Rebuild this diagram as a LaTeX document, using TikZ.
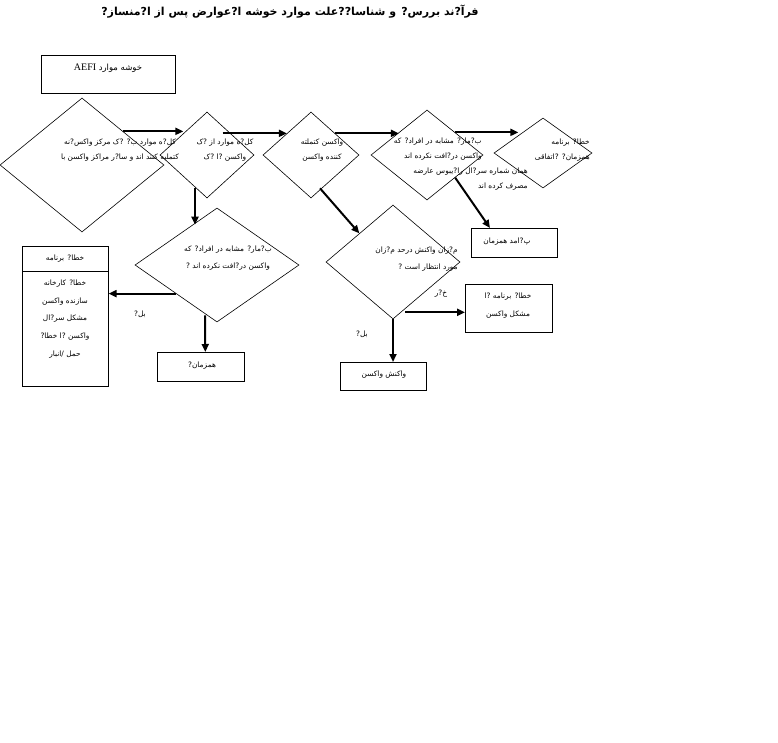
\documentclass[tikz,border=0pt]{standalone}
\usepackage{fontspec}
\setmainfont{Liberation Serif}
\newfontfamily\fa[Script=Arabic]{DejaVu Sans}
\TeXXeTstate=1
\usetikzlibrary{shapes.geometric,arrows.meta,calc}
\newcommand{\rl}[1]{\beginR #1\endR}
\tikzset{
  dmd/.style={draw, diamond, inner sep=0pt},
  box/.style={draw, rectangle, inner sep=0pt, anchor=north west},
  txt/.style={font=\fa\fontsize{7.4}{15}\selectfont, inner sep=0pt, align=center},
  arw/.style={line width=2pt, -{Triangle[length=8pt,width=7pt]}}
}

\begin{document}
\begin{tikzpicture}[x=1pt, y=-1pt, line width=0.6pt]
  \useasboundingbox (0,0) rectangle (778,742);
  \node[font=\fa\bfseries\fontsize{11}{13}\selectfont, inner sep=0pt] (title) at (290,12) {\rl{فرآ?ند بررس? و شناسا??علت موارد خوشه ا?عوارض پس از ا?منساز?}};

  \node[box, minimum width=134pt, minimum height=38pt] (cases) at (41,55) {};
  \node[txt, font=\fa\fontsize{8.5}{10}\selectfont] (casest) at (108,68) {\rl{خوشه موارد \beginL{\rmfamily\fontsize{10}{12}\selectfont AEFI}\endL}};

  \node[dmd, minimum width=164pt, minimum height=134pt] (d1) at (82,165) {};
  \node[dmd, minimum width=94pt, minimum height=86pt] (d2) at (207,155) {};
  \node[dmd, minimum width=96pt, minimum height=86pt] (d3) at (311,155) {};
  \node[dmd, minimum width=112pt, minimum height=90pt] (d4) at (427,155) {};
  \node[dmd, minimum width=98pt, minimum height=70pt] (d5) at (543,153) {};
  \node[dmd, minimum width=164pt, minimum height=114pt] (d6) at (217,265) {};
  \node[dmd, minimum width=134pt, minimum height=114pt] (d7) at (393,262) {};

  \node[box, minimum width=86pt, minimum height=29pt] (coin) at (471,228) {};
  \node[box, minimum width=87pt, minimum height=48pt] (prog) at (465,284) {};
  \node[box, minimum width=86pt, minimum height=28pt] (react) at (340,362) {};
  \node[box, minimum width=87pt, minimum height=29pt] (cons) at (157,352) {};
  \node[box, minimum width=86pt, minimum height=140pt] (err) at (22,246) {};
  \draw ($(err.north west)+(0,25)$) -- ($(err.north east)+(0,25)$);

  \node[txt] (d1t) at (120,150) {\rl{کل?ه موارد ب? ?ک مرکز واکس?نه}\\\rl{کتملیه کنند اند و سا?ر مراکز واکسن با}};
  \node[txt] (d2t) at (225,150) {\rl{کل?ه موارد از ?ک}\\\rl{واکسن ?ا ?ک}};
  \node[txt] (d3t) at (322,150) {\rl{واکسن کتملته}\\\rl{کننده واکسن}};
  \node[txt, align=right, anchor=north east] (d4t) at (482,138) {\rl{ب?مار? مشابه در افراد? که}\\\rl{واکسن در?افت نکرده اند}};
  \node[txt, align=right, anchor=north east] (d4u) at (528,168) {\rl{همان شماره سر?ال را?یبوس عارضه}\\\rl{مصرف کرده اند}};
  \node[txt, align=right, anchor=east] (d5t) at (590,150) {\rl{خطا? برنامه}\\\rl{همزمان? ?اتفاقی}};
  \node[txt, font=\fa\fontsize{7.4}{17}\selectfont] (d6t) at (228,258) {\rl{ب?مار? مشابه در افراد? که}\\\rl{واکسن در?افت نکرده اند ?}};
  \node[txt, font=\fa\fontsize{7.4}{17}\selectfont, align=right, anchor=east] (d7t) at (458,259) {\rl{م?زان واکنش درحد م?زان}\\\rl{مورد انتظار است ?}};

  \node[txt] (coint) at (507,242) {\rl{پ?امد همزمان}};
  \node[txt, font=\fa\fontsize{7.4}{18}\selectfont] (progt) at (508,306) {\rl{خطا? برنامه ?ا}\\\rl{مشکل واکسن}};
  \node[txt] (reactt) at (384,375) {\rl{واکنش واکسن}};
  \node[txt] (const) at (202,366) {\rl{همزمان?}};
  \node[txt] (errh) at (65,259) {\rl{خطا? برنامه}};
  \node[txt, font=\fa\fontsize{7.4}{17.8}\selectfont] (errt) at (65,319) {\rl{خطا? کارخانه}\\\rl{سازنده واکسن}\\\rl{مشکل سر?ال}\\\rl{واکسن ?ا خطا?}\\\rl{حمل /انبار}};

  \node[txt] (yes1) at (140,314) {\rl{بل?}};
  \node[txt] (yes2) at (362,334) {\rl{بل?}};
  \node[txt] (no2) at (441,294) {\rl{خ?ر}};

  \draw[arw] (d1.north east) -- (d1.north east -| d2.north west);
  \draw[arw] ($(d2.north east)+(-8,0)$) -- (d2.north east -| d3.north west);
  \draw[arw] (d3.north east) -- (d3.north east -| d4.north west);
  \draw[arw] (d4.north east) -- (d4.north east -| d5.north west);
  \draw[arw] ($(d2.south)+(-12,-10)$) -- ($(d6.north)+(-22,17)$);
  \draw[arw] ($(d3.south)+(9,-10)$) -- (d7.north west);
  \draw[arw] (d4.south east) -- ($(coin.north west)+(19,0)$);
  \draw[arw] (d6.south west) -- (d6.south west -| err.east);
  \draw[arw] ($(d6.south)+(-12,-7)$) -- ($(cons.north)+(4.5,0)$);
  \draw[arw] (d7.south) -- (d7.south |- react.north);
  \draw[arw] ($(d7.south)+(12,-7)$) -- ($(prog.west)+(0,4)$);
\end{tikzpicture}
\end{document}
